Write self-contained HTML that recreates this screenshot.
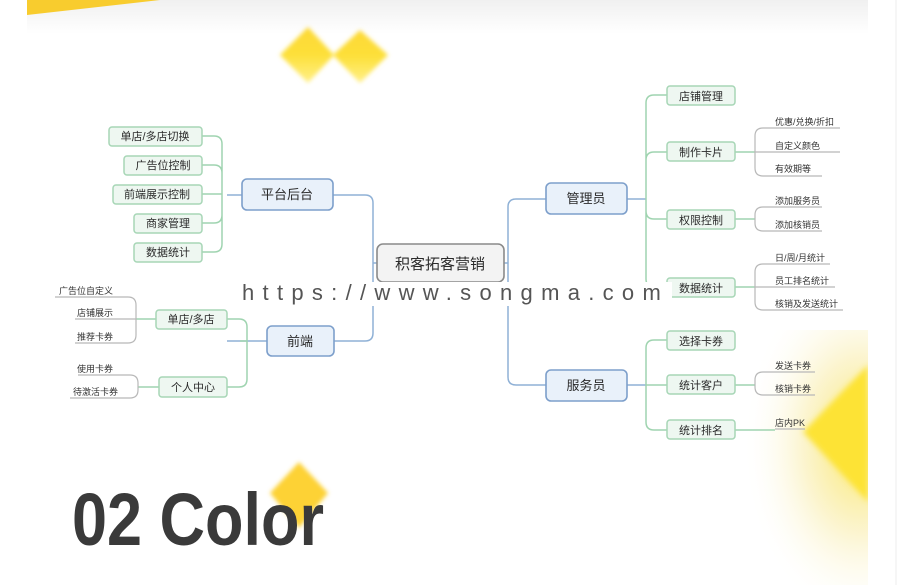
<!DOCTYPE html>
<html><head><meta charset="utf-8"><style>
html,body{margin:0;padding:0;background:#fff;width:900px;height:585px;overflow:hidden}
svg{display:block}
text{font-family:"Liberation Sans","Noto Sans CJK SC",sans-serif}
</style></head><body>
<svg width="900" height="585" viewBox="0 0 900 585" xmlns="http://www.w3.org/2000/svg">
<defs>
<linearGradient id="topg" x1="0" y1="0" x2="0" y2="1"><stop offset="0" stop-color="#f0f0f0"/><stop offset="1" stop-color="#ffffff"/></linearGradient>
<linearGradient id="dia" x1="0" y1="0" x2="0" y2="1"><stop offset="0" stop-color="#fdd835"/><stop offset="0.5" stop-color="#fde03a"/><stop offset="1" stop-color="#fff08a"/></linearGradient>
<radialGradient id="br" cx="0.95" cy="0.45" r="0.7"><stop offset="0" stop-color="#fde54a" stop-opacity="0.85"/><stop offset="0.5" stop-color="#f5e27a" stop-opacity="0.35"/><stop offset="1" stop-color="#ffffff" stop-opacity="0"/></radialGradient>
<filter id="blur2"><feGaussianBlur stdDeviation="2"/></filter>
<filter id="blur3"><feGaussianBlur stdDeviation="3"/></filter>
</defs>
<rect x="27" y="0" width="843" height="34" fill="url(#topg)"/>
<polygon points="27,0 160,0 27,15" fill="#f8cc2e"/>
<g filter="url(#blur2)">
<polygon points="308,27 334,55 308,83 280,55" fill="url(#dia)"/>
<polygon points="360,30 388,55 360,83 333,55" fill="url(#dia)"/>
</g>
<rect x="700" y="330" width="170" height="255" fill="url(#br)"/>
<polygon points="803,432 868,365 868,502" fill="#fde334" filter="url(#blur3)"/>
<rect x="868" y="0" width="32" height="585" fill="#fff"/>
<line x1="896" y1="0" x2="896" y2="585" stroke="#eee"/>

<g fill="none" stroke-width="1.5">
<g stroke="#8fb1d6">
<path d="M373,203 V333 M333,195 H365 Q373,195 373,203 M334,341 H365 Q373,341 373,333 M373,263 H378"/>
<path d="M508,207 V377 M546,199 H516 Q508,199 508,207 M546,385 H516 Q508,385 508,377 M503,263 H508"/>
<path d="M227,195 H242 M227,341 H267 M627,199 H646 M627,385 H646"/>
</g>
<g stroke="#9fd4b0">
<path d="M222,144 V244 M202,136 H214 Q222,136 222,144 M202,165 H214 Q222,165 222,173 M202,194 H222 M202,223 H214 Q222,223 222,215 M202,252 H214 Q222,252 222,244"/>
<path d="M247,327 V379 M227,319 H239 Q247,319 247,327 M227,387 H239 Q247,387 247,379 M247,341 H240"/>
<path d="M646,103 V279 M667,95 H654 Q646,95 646,103 M667,152 H654 Q646,152 646,160 M667,219 H654 Q646,219 646,211 M667,287 H654 Q646,287 646,279"/>
<path d="M646,348 V422 M667,340 H654 Q646,340 646,348 M667,385 H646 M667,430 H654 Q646,430 646,422"/>
<path d="M735,152 H755 M735,219 H755 M735,287 H755 M735,385 H755 M735,430 H775"/>
<path d="M136,319 H156 M138,387 H159"/>
</g>
<g stroke="#b8b8b8" stroke-width="1.2">
<path d="M755,136 V168 M775,128 H763 Q755,128 755,136 M755,152 H840 M775,176 H763 Q755,176 755,168 M775,128 H840 M775,176 H822"/>
<path d="M755,215 V223 M775,207 H763 Q755,207 755,215 M775,231 H763 Q755,231 755,223 M775,207 H822 M775,231 H822"/>
<path d="M755,272 V302 M775,264 H763 Q755,264 755,272 M755,287 H835 M775,310 H763 Q755,310 755,302 M775,264 H830 M775,310 H843"/>
<path d="M755,380 V387 M775,372 H763 Q755,372 755,380 M775,395 H763 Q755,395 755,387 M775,372 H815 M775,395 H815 M775,429 H805"/>
<path d="M136,305 V335 M128,297 Q136,297 136,305 M128,343 Q136,343 136,335 M55,297 H128 M75,343 H128 M75,319 H136"/>
<path d="M138,383 V390 M130,375 Q138,375 138,383 M130,398 Q138,398 138,390 M78,375 H130 M70,398 H130"/>
</g>
</g>

<g stroke="#a7d6b6" stroke-width="1.5" fill="#eef7f1">
<rect x="109" y="127" width="93" height="19" rx="3"/>
<rect x="124" y="156" width="78" height="19" rx="3"/>
<rect x="113" y="185" width="89" height="19" rx="3"/>
<rect x="134" y="214" width="68" height="19" rx="3"/>
<rect x="134" y="243" width="68" height="19" rx="3"/>
<rect x="156" y="310" width="71" height="19" rx="3"/>
<rect x="159" y="377" width="68" height="20" rx="3"/>
<rect x="667" y="86" width="68" height="19" rx="3"/>
<rect x="667" y="142" width="68" height="19" rx="3"/>
<rect x="667" y="210" width="68" height="19" rx="3"/>
<rect x="667" y="278" width="68" height="19" rx="3"/>
<rect x="667" y="331" width="68" height="19" rx="3"/>
<rect x="667" y="375" width="68" height="19" rx="3"/>
<rect x="667" y="420" width="68" height="19" rx="3"/>
</g>
<g stroke="#7d9fcb" stroke-width="1.6" fill="#e9f1fa">
<rect x="242" y="179" width="91" height="31" rx="5"/>
<rect x="267" y="326" width="67" height="30" rx="5"/>
<rect x="546" y="183" width="81" height="31" rx="5"/>
<rect x="546" y="370" width="81" height="31" rx="5"/>
</g>
<rect x="377" y="244" width="127" height="38" rx="6" fill="#f3f3f3" stroke="#8a8a8a" stroke-width="1.6"/>

<g fill="#2a2a2a" font-size="11" text-anchor="middle">
<text x="155" y="140">单店/多店切换</text>
<text x="163" y="169">广告位控制</text>
<text x="157" y="198">前端展示控制</text>
<text x="168" y="227">商家管理</text>
<text x="168" y="256">数据统计</text>
<text x="191" y="323">单店/多店</text>
<text x="193" y="391">个人中心</text>
<text x="701" y="100">店铺管理</text>
<text x="701" y="156">制作卡片</text>
<text x="701" y="224">权限控制</text>
<text x="701" y="292">数据统计</text>
<text x="701" y="345">选择卡券</text>
<text x="701" y="389">统计客户</text>
<text x="701" y="434">统计排名</text>
</g>
<g fill="#2a2a2a" font-size="13" text-anchor="middle">
<text x="287" y="199">平台后台</text>
<text x="300" y="346">前端</text>
<text x="586" y="203">管理员</text>
<text x="586" y="390">服务员</text>
</g>
<text x="440" y="269" font-size="15" fill="#2a2a2a" text-anchor="middle">积客拓客营销</text>
<g fill="#333" font-size="9">
<text x="775" y="125">优惠/兑换/折扣</text>
<text x="775" y="149">自定义颜色</text>
<text x="775" y="172">有效期等</text>
<text x="775" y="204">添加服务员</text>
<text x="775" y="228">添加核销员</text>
<text x="775" y="261">日/周/月统计</text>
<text x="775" y="284">员工排名统计</text>
<text x="775" y="307">核销及发送统计</text>
<text x="775" y="369">发送卡券</text>
<text x="775" y="392">核销卡券</text>
<text x="775" y="426">店内PK</text>
</g>
<g fill="#333" font-size="9" text-anchor="end">
<text x="113" y="294">广告位自定义</text>
<text x="113" y="316">店铺展示</text>
<text x="113" y="340">推荐卡券</text>
<text x="113" y="372">使用卡券</text>
<text x="118" y="395">待激活卡券</text>
</g>

<rect x="238" y="282" width="434" height="24" fill="#fff"/>
<text x="242" y="300" font-size="22" fill="#555" letter-spacing="7.2" textLength="426" lengthAdjust="spacing">https://www.songma.com</text>

<polygon points="299,462 328,493 299,528 270,493" fill="#fdd234" filter="url(#blur2)"/>
<text x="72" y="545" font-size="74" font-weight="bold" fill="#3a3a3a" textLength="252" lengthAdjust="spacingAndGlyphs">02 Color</text>
</svg>
</body></html>
